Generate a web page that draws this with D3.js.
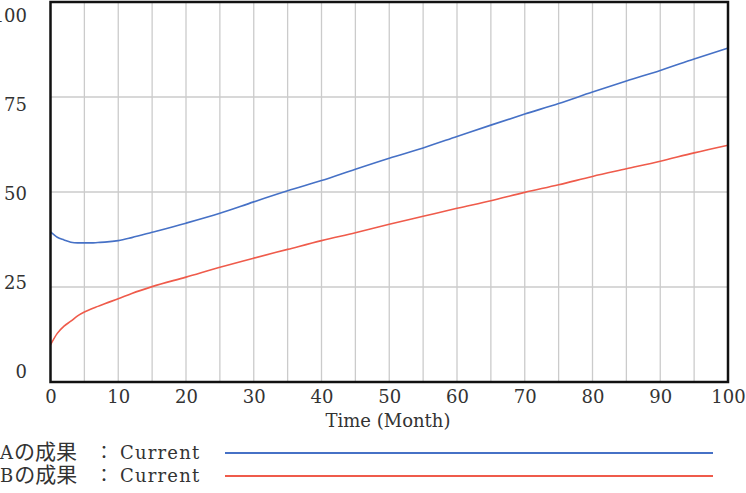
<!DOCTYPE html>
<html>
<head>
<meta charset="utf-8">
<script src="https://cdn.jsdelivr.net/npm/d3@7"></script>
<style>
  body { margin: 0; background: #fff; }
  svg { display: block; }
  text { font-family: "DejaVu Serif", "Noto Sans CJK JP", serif; fill: #333; }
</style>
</head>
<body>
<div id="chart"></div>
<script>
// months
var months = [0, 1, 2, 3, 4, 5, 6, 7, 8, 10, 12, 15, 20, 25, 30, 35, 40, 45, 50, 55, 60, 65, 70, 75, 80, 85, 90, 95, 100];
// Aの成果 : Current
var seriesA = [39.5, 38.1, 37.4, 36.8, 36.6, 36.6, 36.6, 36.7, 36.8, 37.2, 38.0, 39.4, 41.8, 44.4, 47.4, 50.3, 53.0, 56.0, 58.9, 61.6, 64.6, 67.6, 70.5, 73.3, 76.3, 79.2, 82.0, 85.0, 87.9];
// Bの成果 : Current
var seriesB = [9.8, 12.8, 14.7, 16.0, 17.4, 18.4, 19.2, 19.9, 20.6, 21.9, 23.3, 25.1, 27.6, 30.2, 32.6, 34.9, 37.2, 39.3, 41.5, 43.6, 45.7, 47.7, 49.9, 51.9, 54.1, 56.1, 58.1, 60.3, 62.3];
var seriesLetters = ["A", "B"];
var seriesSuffix = "の成果";
var runName = "Current";
var seriesColors = ["#4671c6", "#ef5b4b"];
var xTicks = [0, 10, 20, 30, 40, 50, 60, 70, 80, 90, 100];
var yTicks = [0, 25, 50, 75, 100];
var xTitle = "Time (Month)";

var width = 746, height = 493;
var margin = { top: 2, bottom: 111, left: 50.5, right: 18 };

var svg = d3.select("#chart").append("svg")
  .attr("width", width)
  .attr("height", height);

var x = d3.scaleLinear().domain([0, 100]).range([margin.left, width - margin.right]);
var y = d3.scaleLinear().domain([0, 100]).range([height - margin.bottom, margin.top]);
// tick labels are spread a bit inside the frame
var yLab = d3.scaleLinear().domain([0, 100]).range([372, 16]);

// grid
svg.append("g")
  .selectAll("line")
  .data(d3.range(5, 100, 5))
  .join("line")
    .attr("x1", d => x(d)).attr("x2", d => x(d))
    .attr("y1", y(100)).attr("y2", y(0))
    .attr("stroke", "#cbcbcb").attr("stroke-width", 1.3);

svg.append("g")
  .selectAll("line")
  .data([25, 50, 75])
  .join("line")
    .attr("x1", x(0)).attr("x2", x(100))
    .attr("y1", d => y(d)).attr("y2", d => y(d))
    .attr("stroke", "#cbcbcb").attr("stroke-width", 1.3);

// lines
var line = d3.line()
  .x((d, i) => x(months[i]))
  .y(d => y(d))
  .curve(d3.curveMonotoneX);

[seriesA, seriesB].forEach(function (s, k) {
  svg.append("path")
    .attr("d", line(s))
    .attr("fill", "none")
    .attr("stroke", seriesColors[k])
    .attr("stroke-width", 1.6);
});

// frame
svg.append("rect")
  .attr("x", x(0)).attr("y", y(100))
  .attr("width", x(100) - x(0)).attr("height", y(0) - y(100))
  .attr("fill", "none").attr("stroke", "#111").attr("stroke-width", 2.5);

// axes
function yAxis(g) {
  g.attr("transform", "translate(27,0)")
    .call(d3.axisLeft(yLab).tickValues(yTicks).tickSize(0).tickPadding(0))
    .call(g => g.select(".domain").remove())
    .attr("font-size", "18px");
}
function xAxis(g) {
  g.attr("transform", "translate(0," + (y(0) + 8) + ")")
    .call(d3.axisBottom(x).tickValues(xTicks).tickSize(0).tickPadding(0))
    .call(g => g.select(".domain").remove())
    .attr("font-size", "18px");
}
svg.append("g").call(yAxis);
svg.append("g").call(xAxis);
svg.selectAll(".tick text").attr("fill", "#333").style("font-family", "DejaVu Serif");

svg.append("text")
  .attr("x", 388).attr("y", 427)
  .attr("text-anchor", "middle")
  .attr("font-size", "18px")
  .text(xTitle);

// legend
var legend = svg.append("g")
  .selectAll("g")
  .data(seriesLetters)
  .join("g")
    .attr("transform", (d, i) => "translate(0," + (453 + i * 23) + ")");

var lt = legend.append("text")
  .attr("x", 0).attr("y", 6)
  .attr("font-size", "18px");
lt.append("tspan").text(d => d);
lt.append("tspan").attr("font-size", "21px").attr("dx", 1).text(seriesSuffix);
lt.append("tspan").attr("x", 95).attr("font-size", "18px").text("：");
lt.append("tspan").attr("x", 120).attr("letter-spacing", "1.2px").text(runName);

legend.append("line")
  .attr("x1", 225).attr("x2", 713)
  .attr("stroke", (d, i) => seriesColors[i])
  .attr("stroke-width", 2);
</script>
</body>
</html>
